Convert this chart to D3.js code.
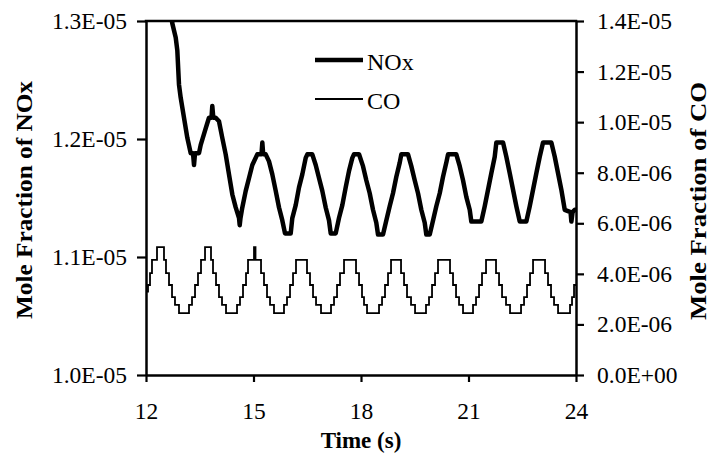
<!DOCTYPE html>
<html>
<head>
<meta charset="utf-8">
<script src="https://cdn.jsdelivr.net/npm/d3@7"></script>
<style>
  html, body { margin: 0; padding: 0; background: #fff; }
  svg { display: block; }
  text { font-family: "Liberation Serif", "Times New Roman", serif; fill: #000; }
</style>
</head>
<body>
<svg id="chart" width="711" height="466"></svg>
<script>
// ---- Data ----
const xTicks = [12, 15, 18, 21, 24];
const leftTicks = [1.0e-5, 1.1e-5, 1.2e-5, 1.3e-5];
const rightTicks = [0, 2e-6, 4e-6, 6e-6, 8e-6, 1.0e-5, 1.2e-5, 1.4e-5];
const seriesNames = ["NOx", "CO"];

// NOx (left axis), time in s
const noxTime = [12.698, 12.734, 12.829, 12.874, 12.921, 12.968, 13.061, 13.153, 13.248, 13.312,
  13.340, 13.368, 13.479, 13.527, 13.666, 13.758, 13.828, 13.850, 13.878, 13.945,
  14.037, 14.129, 14.224, 14.316, 14.409, 14.503, 14.596, 14.615, 14.637, 14.688,
  14.783, 14.875, 14.967, 15.106, 15.223, 15.246, 15.271, 15.341, 15.433, 15.525,
  15.620, 15.712, 15.804, 15.879, 16.038, 16.083, 16.178, 16.270, 16.362, 16.457,
  16.502, 16.641, 16.736, 16.828, 16.920, 17.015, 17.107, 17.155, 17.294, 17.386,
  17.479, 17.573, 17.666, 17.758, 17.805, 17.945, 18.056, 18.148, 18.243, 18.335,
  18.427, 18.475, 18.614, 18.706, 18.801, 18.893, 18.986, 19.081, 19.125, 19.312,
  19.404, 19.499, 19.591, 19.683, 19.778, 19.823, 19.918, 20.010, 20.102, 20.197,
  20.289, 20.381, 20.429, 20.660, 20.755, 20.847, 20.939, 21.034, 21.079, 21.358,
  21.453, 21.545, 21.637, 21.732, 21.777, 21.964, 22.056, 22.151, 22.243, 22.335,
  22.430, 22.614, 22.709, 22.801, 22.893, 22.988, 23.080, 23.312, 23.407, 23.499,
  23.591, 23.686, 23.848, 23.871, 23.904, 23.966, 24.000];
const noxValue = [1.305e-5, 1.298e-5, 1.286e-5, 1.275e-5, 1.246e-5, 1.235e-5, 1.218e-5, 1.201e-5, 1.188e-5, 1.188e-5,
  1.178e-5, 1.188e-5, 1.188e-5, 1.195e-5, 1.209e-5, 1.218e-5, 1.218e-5, 1.228e-5, 1.218e-5, 1.218e-5,
  1.215e-5, 1.201e-5, 1.187e-5, 1.170e-5, 1.153e-5, 1.142e-5, 1.133e-5, 1.127e-5, 1.133e-5, 1.142e-5,
  1.156e-5, 1.167e-5, 1.178e-5, 1.187e-5, 1.187e-5, 1.197e-5, 1.187e-5, 1.187e-5, 1.181e-5, 1.170e-5,
  1.156e-5, 1.142e-5, 1.131e-5, 1.120e-5, 1.120e-5, 1.133e-5, 1.144e-5, 1.159e-5, 1.170e-5, 1.184e-5,
  1.187e-5, 1.187e-5, 1.178e-5, 1.167e-5, 1.156e-5, 1.142e-5, 1.131e-5, 1.120e-5, 1.120e-5, 1.133e-5,
  1.144e-5, 1.159e-5, 1.173e-5, 1.184e-5, 1.187e-5, 1.187e-5, 1.177e-5, 1.165e-5, 1.154e-5, 1.140e-5,
  1.129e-5, 1.119e-5, 1.119e-5, 1.131e-5, 1.143e-5, 1.154e-5, 1.168e-5, 1.180e-5, 1.187e-5, 1.187e-5,
  1.177e-5, 1.165e-5, 1.154e-5, 1.140e-5, 1.129e-5, 1.119e-5, 1.119e-5, 1.131e-5, 1.143e-5, 1.154e-5,
  1.168e-5, 1.180e-5, 1.187e-5, 1.187e-5, 1.177e-5, 1.165e-5, 1.151e-5, 1.140e-5, 1.130e-5, 1.130e-5,
  1.143e-5, 1.157e-5, 1.171e-5, 1.185e-5, 1.197e-5, 1.197e-5, 1.185e-5, 1.171e-5, 1.157e-5, 1.143e-5,
  1.130e-5, 1.130e-5, 1.143e-5, 1.157e-5, 1.171e-5, 1.185e-5, 1.197e-5, 1.197e-5, 1.185e-5, 1.171e-5,
  1.157e-5, 1.140e-5, 1.138e-5, 1.130e-5, 1.138e-5, 1.140e-5, 1.140e-5];

// CO (right axis), stepped signal: value holds from each time until the next
const coTime = [12.000, 12.056, 12.112, 12.167, 12.307, 12.502, 12.558, 12.642, 12.726, 12.809,
  12.921, 13.200, 13.284, 13.368, 13.451, 13.535, 13.647, 13.814, 13.870, 13.954,
  14.037, 14.121, 14.233, 14.540, 14.623, 14.707, 14.791, 14.847, 15.014, 15.056,
  15.210, 15.293, 15.377, 15.461, 15.572, 15.851, 15.935, 16.019, 16.103, 16.186,
  16.493, 16.577, 16.661, 16.745, 16.884, 17.163, 17.247, 17.331, 17.414, 17.526,
  17.861, 17.945, 18.028, 18.084, 18.168, 18.503, 18.587, 18.670, 18.754, 18.838,
  19.117, 19.201, 19.284, 19.396, 19.508, 19.814, 19.898, 19.982, 20.066, 20.149,
  20.484, 20.568, 20.652, 20.736, 20.847, 21.126, 21.210, 21.294, 21.377, 21.489,
  21.768, 21.852, 21.936, 22.047, 22.159, 22.466, 22.550, 22.633, 22.717, 22.801,
  23.136, 23.219, 23.303, 23.387, 23.499, 23.833, 23.889, 23.945, 24.000];
const coValue = [3.30e-6, 3.56e-6, 4.03e-6, 4.55e-6, 5.06e-6, 4.55e-6, 4.03e-6, 3.56e-6, 3.08e-6, 2.77e-6,
  2.45e-6, 2.77e-6, 3.08e-6, 3.56e-6, 4.03e-6, 4.55e-6, 5.06e-6, 4.55e-6, 4.03e-6, 3.56e-6,
  3.08e-6, 2.77e-6, 2.45e-6, 2.77e-6, 3.08e-6, 3.56e-6, 4.03e-6, 4.55e-6, 5.06e-6, 4.55e-6,
  4.03e-6, 3.56e-6, 3.08e-6, 2.77e-6, 2.45e-6, 2.77e-6, 3.08e-6, 3.56e-6, 4.03e-6, 4.55e-6,
  4.03e-6, 3.56e-6, 3.08e-6, 2.77e-6, 2.45e-6, 2.77e-6, 3.08e-6, 3.56e-6, 4.03e-6, 4.55e-6,
  4.03e-6, 3.56e-6, 3.08e-6, 2.77e-6, 2.45e-6, 2.77e-6, 3.08e-6, 3.56e-6, 4.03e-6, 4.55e-6,
  4.03e-6, 3.56e-6, 3.08e-6, 2.77e-6, 2.45e-6, 2.77e-6, 3.08e-6, 3.56e-6, 4.03e-6, 4.55e-6,
  4.03e-6, 3.56e-6, 3.08e-6, 2.77e-6, 2.45e-6, 2.77e-6, 3.08e-6, 3.56e-6, 4.03e-6, 4.55e-6,
  4.03e-6, 3.56e-6, 3.08e-6, 2.77e-6, 2.45e-6, 2.77e-6, 3.08e-6, 3.56e-6, 4.03e-6, 4.55e-6,
  4.03e-6, 3.56e-6, 3.08e-6, 2.77e-6, 2.45e-6, 2.77e-6, 3.08e-6, 3.56e-6, 3.56e-6];

// ---- Layout ----
const plot = { left: 146, right: 576, top: 21, bottom: 375 };
const svg = d3.select("#chart");

const x = d3.scaleLinear().domain([12, 24]).range([plot.left, plot.right]);
const yL = d3.scaleLinear().domain([1.0e-5, 1.3e-5]).range([plot.bottom, plot.top]);
const yR = d3.scaleLinear().domain([0, 1.4e-5]).range([plot.bottom, plot.top]);

function sci(v) {
  if (v === 0) return "0.0E+00";
  const e = Math.floor(Math.log10(Math.abs(v)) + 1e-9);
  const m = v / Math.pow(10, e);
  const sign = e < 0 ? "-" : "+";
  return m.toFixed(1) + "E" + sign + String(Math.abs(e)).padStart(2, "0");
}

svg.append("defs").append("clipPath").attr("id", "clip")
  .append("rect")
  .attr("x", plot.left).attr("y", plot.top)
  .attr("width", plot.right - plot.left).attr("height", plot.bottom - plot.top);

// series
const noxData = noxTime.map((t, i) => ({ t, v: noxValue[i] }));
const coData = coTime.map((t, i) => ({ t, v: coValue[i] }));

const g = svg.append("g").attr("clip-path", "url(#clip)");
g.append("path").datum(coData)
  .attr("fill", "none").attr("stroke", "#000").attr("stroke-width", 1.8)
  .attr("d", d3.line().x(d => x(d.t)).y(d => yR(d.v)).curve(d3.curveStepAfter));
g.append("path").datum(noxData)
  .attr("fill", "none").attr("stroke", "#000").attr("stroke-width", 4.5)
  .attr("stroke-linejoin", "round")
  .attr("d", d3.line().x(d => x(d.t)).y(d => yL(d.v)));

// axes
const tickFont = "23.5px";
const axL = svg.append("g").attr("transform", `translate(${plot.left},0)`)
  .call(d3.axisLeft(yL).tickValues(leftTicks).tickFormat(sci).tickSize(9).tickSizeOuter(0).tickPadding(10));
const axR = svg.append("g").attr("transform", `translate(${plot.right},0)`)
  .call(d3.axisRight(yR).tickValues(rightTicks).tickFormat(sci).tickSize(8).tickSizeOuter(0).tickPadding(13));
const axB = svg.append("g").attr("transform", `translate(0,${plot.bottom})`)
  .call(d3.axisBottom(x).tickValues(xTicks).tickFormat(d3.format("d")).tickSize(7).tickSizeOuter(0).tickPadding(20));

[axL, axR, axB].forEach(a => {
  a.selectAll("path.domain").attr("stroke", "#000").attr("stroke-width", 2.5);
  a.selectAll(".tick line").attr("stroke", "#000").attr("stroke-width", 2.2);
  a.selectAll(".tick text")
    .style("font-family", '"Liberation Serif", "Times New Roman", serif')
    .style("font-size", tickFont).attr("fill", "#000");
});

// top frame line
svg.append("line")
  .attr("x1", plot.left - 1.25).attr("x2", plot.right + 1.25)
  .attr("y1", plot.top).attr("y2", plot.top)
  .attr("stroke", "#000").attr("stroke-width", 2.5);

// axis titles
svg.append("text")
  .attr("x", (plot.left + plot.right) / 2).attr("y", 448)
  .attr("text-anchor", "middle")
  .style("font-size", "23px").style("font-weight", "bold")
  .text("Time (s)");
svg.append("text")
  .attr("transform", "translate(32,200) rotate(-90)")
  .attr("text-anchor", "middle")
  .attr("textLength", 238).attr("lengthAdjust", "spacingAndGlyphs")
  .style("font-size", "24px").style("font-weight", "bold")
  .text("Mole Fraction of NOx");
svg.append("text")
  .attr("transform", "translate(706,201) rotate(-90)")
  .attr("text-anchor", "middle")
  .attr("textLength", 238).attr("lengthAdjust", "spacingAndGlyphs")
  .style("font-size", "23px").style("font-weight", "bold")
  .text("Mole Fraction of CO");

// legend
const legend = [
  { name: seriesNames[0], y: 60, w: 4.5 },
  { name: seriesNames[1], y: 99, w: 1.8 }
];
legend.forEach(l => {
  svg.append("line")
    .attr("x1", 315).attr("x2", 363).attr("y1", l.y).attr("y2", l.y)
    .attr("stroke", "#000").attr("stroke-width", l.w);
  svg.append("text")
    .attr("x", 367).attr("y", l.y + 9.5)
    .style("font-size", "24px")
    .text(l.name);
});
</script>
</body>
</html>
